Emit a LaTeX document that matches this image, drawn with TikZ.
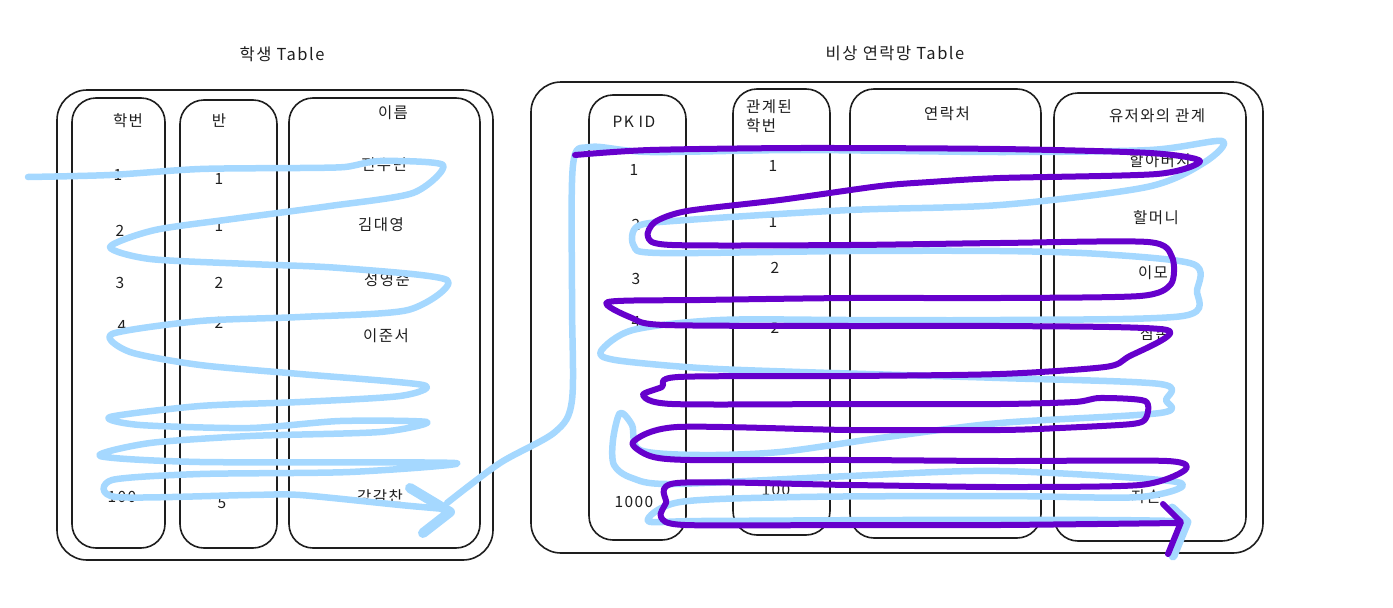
\documentclass[tikz,border=0pt]{standalone}
\usepackage{fontspec}
\setmainfont{Noto Sans CJK KR}[LetterSpace=9]
\definecolor{ink}{RGB}{30,30,30}
\definecolor{skyblue}{RGB}{165,216,255}
\definecolor{violetpen}{RGB}{102,0,204}
\begin{document}
\begin{tikzpicture}[x=1pt,y=-1pt,
  outerbox/.style={draw=ink,line width=1.6pt,rounded corners=30pt},
  colbox/.style={draw=ink,line width=1.6pt,rounded corners=24pt},
  lbl/.style={text=ink,font=\fontsize{15.5}{19}\selectfont,inner sep=0pt},
  ttl/.style={text=ink,font=\fontsize{16.5}{19}\selectfont,inner sep=0pt},
  bluepen/.style={draw=skyblue,line width=6.5pt,line cap=round,line join=round},
  violet/.style={draw=violetpen,line width=6pt,line cap=round,line join=round}]
\useasboundingbox (0,0) rectangle (1393,608);
% ---------- student table ----------
\node[ttl] (t1) at (282,54) {학생 Table};
\draw[outerbox] (57,90) rectangle (493,560);
\draw[colbox] (72,98) rectangle (165,548);
\draw[colbox] (180,100) rectangle (277,548);
\draw[colbox] (289,98) rectangle (480,548);
\node[lbl] (h11) at (128,121) {학번};
\node[lbl] (h12) at (219,121) {반};
\node[lbl] (h13) at (393,113) {이름};
\node[lbl] (a1) at (118,175) {1};
\node[lbl] (a2) at (120,231) {2};
\node[lbl] (a3) at (120,283) {3};
\node[lbl] (a4) at (122,326) {4};
\node[lbl] (a5) at (122,497) {100};
\node[lbl] (b1) at (219,179) {1};
\node[lbl] (b2) at (219,226) {1};
\node[lbl] (b3) at (219,283) {2};
\node[lbl] (b4) at (219,323) {2};
\node[lbl] (b5) at (222,503) {5};
\node[lbl] (c1) at (384,165) {전수빈};
\node[lbl] (c2) at (381,225) {김대영};
\node[lbl] (c3) at (387,280) {성영준};
\node[lbl] (c4) at (386,336) {이준서};
\node[lbl] (c5) at (380,497) {강감찬};
% ---------- contact table ----------
\node[ttl] (t2) at (895,53) {비상 연락망 Table};
\draw[outerbox] (531,82) rectangle (1263,553);
\draw[colbox] (589,95) rectangle (686,540);
\draw[colbox] (733,89) rectangle (830,535);
\draw[colbox] (850,89) rectangle (1041,538);
\draw[colbox] (1054,93) rectangle (1246,541);
\node[lbl] (h21) at (634,122) {PK ID};
\node[lbl,align=left] (h22) at (769,116) {관계된\\학번};
\node[lbl] (h23) at (947,114) {연락처};
\node[lbl] (h24) at (1157,116) {유저와의 관계};
\node[lbl] (p1) at (634,170) {1};
\node[lbl] (p2) at (636,225) {2};
\node[lbl] (p3) at (636,279) {3};
\node[lbl] (p4) at (636,322) {4};
\node[lbl] (p5) at (634,502) {1000};
\node[lbl] (r1) at (773,166) {1};
\node[lbl] (r2) at (773,222) {1};
\node[lbl] (r3) at (775,268) {2};
\node[lbl] (r4) at (775,328) {2};
\node[lbl] (r5) at (776,490) {100};
\node[lbl] (u1) at (1160,161) {할아버지};
\node[lbl] (u2) at (1156,218) {할머니};
\node[lbl] (u3) at (1153,273) {이모};
\node[lbl] (u4) at (1155,334) {삼촌};
\node[lbl] (u5) at (1146,497) {자손};
% ---------- blue scribble ----------
\draw[bluepen] plot[smooth,tension=0.45] coordinates {
 (28,177) (110,175) (200,169) (300,168) (345,167) (380,161) (443,165)
 (413,193) (330,206) (240,218) (155,230) (110,247) (150,259) (250,264)
 (340,268) (447,280) (408,310) (300,317) (200,321) (112,334) (130,352)
 (200,365) (300,374) (423,385) (400,396) (300,402) (200,406) (110,417)
 (140,425) (250,428) (340,421) (427,422) (380,432) (250,436) (150,443)
 (100,456) (200,462) (455,463) (350,472) (200,474) (112,480) (116,497)
 (250,495) (300,495) (400,505) (445,509)};
\draw[bluepen,line width=10pt] (410,488) -- (450,512) -- (423,533);
\draw[bluepen] plot[smooth,tension=0.5] coordinates {
 (447,503) (500,463) (555,432) (572,400) (572,300) (573,165) (590,147)
 (650,152) (800,150) (1000,152) (1150,150) (1222,141) (1205,162)
 (1147,187) (1000,205) (850,210) (687,220) (638,226) (634,246) (660,253)
 (850,251) (1000,251) (1100,254) (1193,264) (1197,290) (1183,316)
 (1000,320) (850,320) (720,320) (633,330) (601,351) (615,360) (700,368)
 (800,372) (1000,378) (1160,384) (1166,400) (1160,413) (1000,423)
 (880,438) (780,452) (700,455) (640,450) (632,425) (620,413) (613,440)
 (614,465) (632,478) (673,484) (850,476) (1000,471) (1177,482)
 (1140,497) (1000,496) (800,497) (680,502) (648,521) (700,521) (900,520)
 (1100,520) (1178,521)};
\draw[bluepen,line width=9pt] (1172,508) -- (1187,522) -- (1173,556);
% ---------- violet scribble ----------
\draw[violet] plot[smooth,tension=0.45] coordinates {
 (575,155) (650,150) (800,148) (1000,149) (1150,153) (1200,161)
 (1157,174) (1000,178) (930,182) (880,186) (780,200) (687,211) (655,222)
 (648,237) (672,245) (850,245) (1000,243) (1148,242) (1172,257)
 (1171,284) (1140,296) (1000,298) (850,298) (700,300) (608,302)
 (632,318) (665,325) (850,326) (1000,326) (1167,330) (1128,357)
 (1105,367) (1000,374) (850,376) (678,377) (662,387) (643,395) (672,404)
 (850,404) (1000,404) (1075,402) (1100,398) (1145,401) (1146,418)
 (1132,424) (1060,428) (1000,430) (850,430) (677,427) (633,442) (650,456)
 (690,460) (850,460) (1000,461) (1167,461) (1185,470) (1140,485)
 (1000,487) (850,485) (677,483) (666,503) (661,517) (685,525) (850,525)
 (1000,525) (1179,523)};
\draw[violet] (1163,504) -- (1181,522) -- (1168,554);
\end{tikzpicture}
\end{document}
